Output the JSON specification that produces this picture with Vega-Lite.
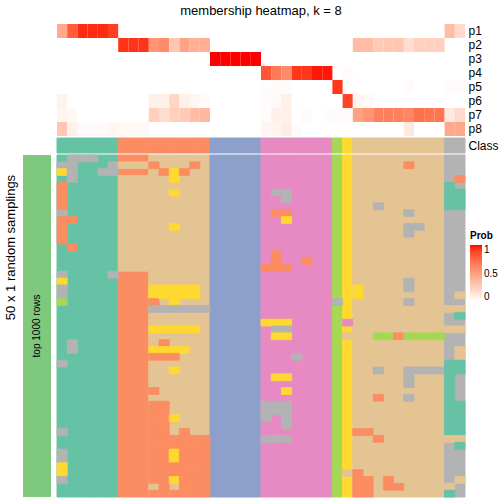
{
"$schema": "https://vega.github.io/schema/vega-lite/v6.json",
"background": "white",
"padding": {"left": 3, "top": 5, "right": 0, "bottom": 0},
"config": {"font": "Liberation Sans", "view": {"stroke": null}},
"datasets": {
"anno": [{"g": "top 1000 rows"}],
"samples": [
{"c":1,"cls":1,"dom":1},{"c":2,"cls":1,"dom":1},{"c":3,"cls":1,"dom":1},{"c":4,"cls":1,"dom":1},{"c":5,"cls":1,"dom":1},{"c":6,"cls":1,"dom":1},
{"c":7,"cls":2,"dom":2},{"c":8,"cls":2,"dom":2},{"c":9,"cls":2,"dom":2},
{"c":10,"cls":2,"dom":7},{"c":11,"cls":2,"dom":7},{"c":12,"cls":2,"dom":7},{"c":13,"cls":2,"dom":7},{"c":14,"cls":2,"dom":7},{"c":15,"cls":2,"dom":7},
{"c":16,"cls":3,"dom":3},{"c":17,"cls":3,"dom":3},{"c":18,"cls":3,"dom":3},{"c":19,"cls":3,"dom":3},{"c":20,"cls":3,"dom":3},
{"c":21,"cls":4,"dom":4},{"c":22,"cls":4,"dom":4},{"c":23,"cls":4,"dom":4},{"c":24,"cls":4,"dom":4},{"c":25,"cls":4,"dom":4},{"c":26,"cls":4,"dom":4},{"c":27,"cls":4,"dom":4},
{"c":28,"cls":5,"dom":5},{"c":29,"cls":6,"dom":6},
{"c":30,"cls":7,"dom":7},{"c":31,"cls":7,"dom":7},{"c":32,"cls":7,"dom":7},{"c":33,"cls":7,"dom":7},{"c":34,"cls":7,"dom":7},{"c":35,"cls":7,"dom":7},{"c":36,"cls":7,"dom":7},{"c":37,"cls":7,"dom":7},{"c":38,"cls":7,"dom":7},
{"c":39,"cls":8,"dom":8},{"c":40,"cls":8,"dom":8}
],
"prob": [
{"c":1,"p":"p1","v":0.45},{"c":1,"p":"p6","v":0.07},{"c":1,"p":"p7","v":0.06},{"c":1,"p":"p8","v":0.3},
{"c":2,"p":"p1","v":0.8},{"c":2,"p":"p7","v":0.04},{"c":2,"p":"p8","v":0.08},
{"c":3,"p":"p1","v":0.95},{"c":3,"p":"p8","v":0.02},
{"c":4,"p":"p1","v":0.95},{"c":4,"p":"p8","v":0.02},
{"c":5,"p":"p1","v":0.95},{"c":5,"p":"p8","v":0.02},
{"c":6,"p":"p1","v":0.9},{"c":6,"p":"p8","v":0.05},
{"c":7,"p":"p2","v":0.93},{"c":7,"p":"p8","v":0.04},
{"c":8,"p":"p2","v":0.93},{"c":8,"p":"p8","v":0.04},
{"c":9,"p":"p2","v":0.93},{"c":9,"p":"p8","v":0.04},
{"c":10,"p":"p2","v":0.55},{"c":10,"p":"p6","v":0.08},{"c":10,"p":"p7","v":0.25},
{"c":11,"p":"p2","v":0.6},{"c":11,"p":"p6","v":0.08},{"c":11,"p":"p7","v":0.18},
{"c":12,"p":"p2","v":0.3},{"c":12,"p":"p6","v":0.22},{"c":12,"p":"p7","v":0.25},
{"c":13,"p":"p2","v":0.48},{"c":13,"p":"p6","v":0.08},{"c":13,"p":"p7","v":0.28},
{"c":14,"p":"p2","v":0.42},{"c":14,"p":"p6","v":0.05},{"c":14,"p":"p7","v":0.35},
{"c":15,"p":"p2","v":0.42},{"c":15,"p":"p6","v":0.02},{"c":15,"p":"p7","v":0.38},
{"c":16,"p":"p3","v":1},{"c":17,"p":"p3","v":1},{"c":18,"p":"p3","v":1},{"c":19,"p":"p3","v":1},{"c":20,"p":"p3","v":1},
{"c":21,"p":"p4","v":0.82},{"c":21,"p":"p5","v":0.01},{"c":21,"p":"p6","v":0.02},{"c":21,"p":"p7","v":0.02},{"c":21,"p":"p8","v":0.05},
{"c":22,"p":"p4","v":0.68},{"c":22,"p":"p5","v":0.02},{"c":22,"p":"p6","v":0.03},{"c":22,"p":"p7","v":0.08},{"c":22,"p":"p8","v":0.06},
{"c":23,"p":"p4","v":0.6},{"c":23,"p":"p5","v":0.02},{"c":23,"p":"p6","v":0.08},{"c":23,"p":"p7","v":0.08},{"c":23,"p":"p8","v":0.1},
{"c":24,"p":"p4","v":0.92},{"c":24,"p":"p8","v":0.02},
{"c":25,"p":"p4","v":0.92},{"c":25,"p":"p7","v":0.02},
{"c":26,"p":"p4","v":0.98},
{"c":27,"p":"p4","v":0.98},{"c":27,"p":"p7","v":0.01},
{"c":28,"p":"p5","v":0.92},{"c":28,"p":"p7","v":0.02},
{"c":29,"p":"p6","v":0.88},{"c":29,"p":"p4","v":0.02},{"c":29,"p":"p7","v":0.02},
{"c":30,"p":"p2","v":0.35},{"c":30,"p":"p6","v":0.05},{"c":30,"p":"p7","v":0.48},
{"c":31,"p":"p2","v":0.35},{"c":31,"p":"p6","v":0.03},{"c":31,"p":"p7","v":0.55},
{"c":32,"p":"p2","v":0.28},{"c":32,"p":"p7","v":0.65},
{"c":33,"p":"p2","v":0.3},{"c":33,"p":"p7","v":0.65},
{"c":34,"p":"p2","v":0.3},{"c":34,"p":"p7","v":0.65},
{"c":35,"p":"p2","v":0.18},{"c":35,"p":"p5","v":0.02},{"c":35,"p":"p7","v":0.62},{"c":35,"p":"p8","v":0.12},
{"c":36,"p":"p2","v":0.25},{"c":36,"p":"p7","v":0.72},
{"c":37,"p":"p2","v":0.25},{"c":37,"p":"p7","v":0.7},
{"c":38,"p":"p2","v":0.25},{"c":38,"p":"p7","v":0.7},
{"c":39,"p":"p1","v":0.35},{"c":39,"p":"p5","v":0.02},{"c":39,"p":"p7","v":0.12},{"c":39,"p":"p8","v":0.45},
{"c":40,"p":"p1","v":0.2},{"c":40,"p":"p5","v":0.02},{"c":40,"p":"p7","v":0.2},{"c":40,"p":"p8","v":0.45}
],
"cells": [
{"c":1,"r":2,"k":8},{"c":1,"r":3,"k":6},{"c":1,"r":5,"k":2},{"c":1,"r":6,"k":2},{"c":1,"r":7,"k":2},{"c":1,"r":8,"k":2},{"c":1,"r":9,"k":8},{"c":1,"r":10,"k":2},{"c":1,"r":11,"k":2},{"c":1,"r":12,"k":2},{"c":1,"r":13,"k":2},{"c":1,"r":18,"k":8},{"c":1,"r":19,"k":6},{"c":1,"r":20,"k":8},{"c":1,"r":21,"k":8},{"c":1,"r":22,"k":5},{"c":1,"r":31,"k":8},{"c":1,"r":41,"k":8},{"c":1,"r":44,"k":8},{"c":1,"r":45,"k":8},{"c":1,"r":46,"k":6},{"c":1,"r":47,"k":6},{"c":1,"r":48,"k":8},
{"c":2,"r":1,"k":8},{"c":2,"r":2,"k":8},{"c":2,"r":3,"k":8},{"c":2,"r":4,"k":8},{"c":2,"r":10,"k":2},{"c":2,"r":14,"k":2},{"c":2,"r":28,"k":8},{"c":2,"r":29,"k":8},
{"c":3,"r":1,"k":8},{"c":4,"r":1,"k":8},{"c":5,"r":3,"k":8},{"c":6,"r":2,"k":8},{"c":6,"r":3,"k":8},{"c":6,"r":18,"k":8},
{"c":7,"r":2,"k":7},{"c":7,"r":4,"k":7},{"c":7,"r":5,"k":7},{"c":7,"r":6,"k":7},{"c":7,"r":7,"k":7},{"c":7,"r":8,"k":7},{"c":7,"r":9,"k":7},{"c":7,"r":10,"k":7},{"c":7,"r":11,"k":7},{"c":7,"r":12,"k":7},{"c":7,"r":13,"k":7},{"c":7,"r":14,"k":7},{"c":7,"r":15,"k":7},{"c":7,"r":16,"k":7},{"c":7,"r":17,"k":7},
{"c":8,"r":2,"k":7},{"c":8,"r":4,"k":7},{"c":8,"r":5,"k":7},{"c":8,"r":6,"k":7},{"c":8,"r":7,"k":7},{"c":8,"r":8,"k":7},{"c":8,"r":9,"k":7},{"c":8,"r":10,"k":7},{"c":8,"r":11,"k":7},{"c":8,"r":12,"k":7},{"c":8,"r":13,"k":7},{"c":8,"r":14,"k":7},{"c":8,"r":15,"k":7},{"c":8,"r":16,"k":7},{"c":8,"r":17,"k":7},
{"c":9,"r":2,"k":7},{"c":9,"r":4,"k":7},{"c":9,"r":5,"k":7},{"c":9,"r":6,"k":7},{"c":9,"r":7,"k":7},{"c":9,"r":8,"k":7},{"c":9,"r":9,"k":7},{"c":9,"r":10,"k":7},{"c":9,"r":11,"k":7},{"c":9,"r":12,"k":7},{"c":9,"r":13,"k":7},{"c":9,"r":14,"k":7},{"c":9,"r":15,"k":7},{"c":9,"r":16,"k":7},{"c":9,"r":17,"k":7},
{"c":10,"r":2,"k":2},{"c":10,"r":20,"k":6},{"c":10,"r":21,"k":6},{"c":10,"r":22,"k":2},{"c":10,"r":23,"k":8},{"c":10,"r":26,"k":6},{"c":10,"r":29,"k":6},{"c":10,"r":30,"k":2},{"c":10,"r":35,"k":2},{"c":10,"r":37,"k":2},{"c":10,"r":38,"k":2},{"c":10,"r":39,"k":2},{"c":10,"r":40,"k":2},{"c":10,"r":41,"k":2},{"c":10,"r":42,"k":2},{"c":10,"r":43,"k":2},{"c":10,"r":44,"k":2},{"c":10,"r":45,"k":2},{"c":10,"r":46,"k":2},{"c":10,"r":47,"k":2},{"c":10,"r":48,"k":2},{"c":10,"r":50,"k":2},
{"c":11,"r":3,"k":2},{"c":11,"r":20,"k":6},{"c":11,"r":21,"k":6},{"c":11,"r":23,"k":8},{"c":11,"r":26,"k":6},{"c":11,"r":28,"k":2},{"c":11,"r":29,"k":6},{"c":11,"r":30,"k":2},{"c":11,"r":37,"k":2},{"c":11,"r":38,"k":2},{"c":11,"r":39,"k":2},{"c":11,"r":40,"k":2},{"c":11,"r":41,"k":2},{"c":11,"r":42,"k":2},{"c":11,"r":43,"k":2},{"c":11,"r":44,"k":2},{"c":11,"r":45,"k":2},{"c":11,"r":46,"k":2},{"c":11,"r":47,"k":2},{"c":11,"r":48,"k":2},{"c":11,"r":49,"k":2},{"c":11,"r":50,"k":2},
{"c":12,"r":3,"k":6},{"c":12,"r":4,"k":6},{"c":12,"r":6,"k":6},{"c":12,"r":11,"k":6},{"c":12,"r":20,"k":6},{"c":12,"r":21,"k":6},{"c":12,"r":22,"k":6},{"c":12,"r":23,"k":8},{"c":12,"r":26,"k":6},{"c":12,"r":29,"k":6},{"c":12,"r":30,"k":2},{"c":12,"r":32,"k":6},{"c":12,"r":39,"k":6},{"c":12,"r":42,"k":2},{"c":12,"r":43,"k":2},{"c":12,"r":44,"k":6},{"c":12,"r":45,"k":6},{"c":12,"r":46,"k":2},{"c":12,"r":47,"k":2},{"c":12,"r":48,"k":6},{"c":12,"r":50,"k":2},
{"c":13,"r":3,"k":2},{"c":13,"r":20,"k":6},{"c":13,"r":21,"k":6},{"c":13,"r":23,"k":8},{"c":13,"r":26,"k":6},{"c":13,"r":29,"k":6},{"c":13,"r":41,"k":2},{"c":13,"r":42,"k":2},{"c":13,"r":43,"k":2},{"c":13,"r":44,"k":2},{"c":13,"r":45,"k":2},{"c":13,"r":46,"k":2},{"c":13,"r":47,"k":2},{"c":13,"r":48,"k":2},{"c":13,"r":49,"k":2},{"c":13,"r":50,"k":2},
{"c":14,"r":2,"k":2},{"c":14,"r":20,"k":6},{"c":14,"r":21,"k":6},{"c":14,"r":23,"k":8},{"c":14,"r":26,"k":6},{"c":14,"r":42,"k":2},{"c":14,"r":43,"k":2},{"c":14,"r":44,"k":2},{"c":14,"r":45,"k":2},{"c":14,"r":46,"k":2},{"c":14,"r":47,"k":2},{"c":14,"r":48,"k":2},{"c":14,"r":49,"k":2},{"c":14,"r":50,"k":2},
{"c":15,"r":23,"k":8},{"c":15,"r":42,"k":2},{"c":15,"r":43,"k":2},{"c":15,"r":44,"k":2},{"c":15,"r":45,"k":2},{"c":15,"r":46,"k":2},{"c":15,"r":47,"k":2},{"c":15,"r":48,"k":2},{"c":15,"r":49,"k":2},{"c":15,"r":50,"k":2},
{"c":21,"r":17,"k":2},{"c":21,"r":25,"k":6},{"c":21,"r":37,"k":8},{"c":21,"r":38,"k":8},{"c":21,"r":39,"k":8},{"c":21,"r":42,"k":8},
{"c":22,"r":6,"k":8},{"c":22,"r":9,"k":2},{"c":22,"r":15,"k":2},{"c":22,"r":16,"k":2},{"c":22,"r":17,"k":2},{"c":22,"r":25,"k":6},{"c":22,"r":26,"k":8},{"c":22,"r":27,"k":6},{"c":22,"r":33,"k":6},{"c":22,"r":37,"k":8},{"c":22,"r":38,"k":8},{"c":22,"r":42,"k":8},
{"c":23,"r":6,"k":8},{"c":23,"r":7,"k":8},{"c":23,"r":9,"k":2},{"c":23,"r":10,"k":6},{"c":23,"r":17,"k":2},{"c":23,"r":25,"k":6},{"c":23,"r":26,"k":8},{"c":23,"r":27,"k":6},{"c":23,"r":33,"k":6},{"c":23,"r":35,"k":6},{"c":23,"r":37,"k":8},{"c":23,"r":38,"k":8},{"c":23,"r":39,"k":8},{"c":23,"r":40,"k":8},{"c":23,"r":42,"k":8},
{"c":24,"r":30,"k":8},{"c":25,"r":16,"k":2},{"c":28,"r":22,"k":8},
{"c":29,"r":25,"k":4},{"c":29,"r":27,"k":7},{"c":29,"r":47,"k":7},
{"c":30,"r":20,"k":6},{"c":30,"r":21,"k":6},{"c":30,"r":41,"k":2},{"c":30,"r":47,"k":2},{"c":30,"r":48,"k":2},{"c":30,"r":49,"k":2},{"c":30,"r":50,"k":2},
{"c":31,"r":41,"k":2},{"c":31,"r":48,"k":2},{"c":31,"r":49,"k":2},{"c":31,"r":50,"k":2},
{"c":32,"r":8,"k":8},{"c":32,"r":27,"k":5},{"c":32,"r":32,"k":8},{"c":32,"r":36,"k":2},{"c":32,"r":42,"k":2},
{"c":33,"r":27,"k":5},{"c":33,"r":48,"k":2},{"c":33,"r":49,"k":2},
{"c":34,"r":27,"k":2},{"c":34,"r":49,"k":2},
{"c":35,"r":2,"k":2},{"c":35,"r":9,"k":8},{"c":35,"r":11,"k":8},{"c":35,"r":12,"k":8},{"c":35,"r":19,"k":8},{"c":35,"r":20,"k":8},{"c":35,"r":22,"k":8},{"c":35,"r":27,"k":5},{"c":35,"r":32,"k":8},{"c":35,"r":33,"k":8},{"c":35,"r":34,"k":8},{"c":35,"r":36,"k":8},
{"c":36,"r":11,"k":8},{"c":36,"r":27,"k":5},{"c":36,"r":32,"k":8},
{"c":37,"r":27,"k":5},{"c":37,"r":32,"k":8},
{"c":38,"r":27,"k":5},{"c":38,"r":32,"k":8},
{"c":39,"r":5,"k":1},{"c":39,"r":6,"k":1},{"c":39,"r":7,"k":1},{"c":39,"r":8,"k":1},{"c":39,"r":23,"k":7},{"c":39,"r":26,"k":7},{"c":39,"r":31,"k":1},{"c":39,"r":32,"k":1},{"c":39,"r":33,"k":1},{"c":39,"r":34,"k":1},{"c":39,"r":35,"k":1},{"c":39,"r":36,"k":1},{"c":39,"r":37,"k":1},{"c":39,"r":38,"k":1},{"c":39,"r":39,"k":1},{"c":39,"r":40,"k":1},{"c":39,"r":41,"k":1},{"c":39,"r":42,"k":7},{"c":39,"r":49,"k":7},{"c":39,"r":50,"k":1},
{"c":40,"r":4,"k":2},{"c":40,"r":6,"k":1},{"c":40,"r":7,"k":1},{"c":40,"r":8,"k":1},{"c":40,"r":21,"k":7},{"c":40,"r":23,"k":7},{"c":40,"r":24,"k":1},{"c":40,"r":26,"k":7},{"c":40,"r":29,"k":7},{"c":40,"r":30,"k":7},{"c":40,"r":31,"k":1},{"c":40,"r":32,"k":1},{"c":40,"r":37,"k":1},{"c":40,"r":38,"k":1},{"c":40,"r":39,"k":1},{"c":40,"r":40,"k":1},{"c":40,"r":41,"k":1},{"c":40,"r":42,"k":7},{"c":40,"r":43,"k":1},{"c":40,"r":48,"k":7}
]
},
"columns": 2,
"align": "each",
"bounds": "flush",
"spacing": {"row": 2, "column": 6},
"resolve": {"scale": {"color": "independent", "stroke": "independent"}, "legend": {"color": "independent", "stroke": "independent"}},
"concat": [
{"width": 1, "height": 1, "data": {"values": []}, "mark": "rect", "encoding": {}},
{
"width": 408, "height": 112,
"title": {"text": "membership heatmap, k = 8", "fontSize": 13, "fontWeight": "normal", "offset": 6},
"data": {"name": "prob"},
"mark": "rect",
"encoding": {
"x": {"field": "c", "type": "ordinal", "axis": null, "scale": {"domain": [1,2,3,4,5,6,7,8,9,10,11,12,13,14,15,16,17,18,19,20,21,22,23,24,25,26,27,28,29,30,31,32,33,34,35,36,37,38,39,40]}},
"y": {"field": "p", "type": "nominal", "scale": {"domain": ["p1","p2","p3","p4","p5","p6","p7","p8"]}, "axis": {"orient": "right", "title": null, "ticks": false, "domain": false, "labelFontSize": 12, "labelPadding": 3, "labelColor": "black"}},
"color": {"field": "v", "type": "quantitative", "scale": {"domain": [0, 1], "range": ["#FFFFFF", "#FF0000"], "interpolate": "lab"},
"legend": {"title": "Prob", "orient": "none", "direction": "vertical", "legendX": 413, "legendY": 207, "gradientLength": 57, "gradientThickness": 12, "values": [0, 0.5, 1], "format": "~g", "titleFontSize": 10, "labelFontSize": 10, "titlePadding": 4, "labelColor": "black", "titleColor": "black"}}
}
},
{"width": 1, "height": 1, "data": {"values": []}, "mark": "rect", "encoding": {}},
{
"width": 408, "height": 15,
"data": {"name": "samples"},
"mark": {"type": "rect", "strokeWidth": 1},
"encoding": {
"x": {"field": "c", "type": "ordinal", "axis": null, "scale": {"domain": [1,2,3,4,5,6,7,8,9,10,11,12,13,14,15,16,17,18,19,20,21,22,23,24,25,26,27,28,29,30,31,32,33,34,35,36,37,38,39,40]}},
"y": {"datum": "Class", "type": "nominal", "axis": {"orient": "right", "title": null, "ticks": false, "domain": false, "labelFontSize": 12, "labelPadding": 3, "labelColor": "black"}},
"color": {"field": "cls", "type": "nominal", "scale": {"domain": [1,2,3,4,5,6,7,8], "range": ["#66C2A5","#FC8D62","#8DA0CB","#E78AC3","#A6D854","#FFD92F","#E5C494","#B3B3B3"]}, "legend": null},
"stroke": {"field": "cls", "type": "nominal", "scale": {"domain": [1,2,3,4,5,6,7,8], "range": ["#66C2A5","#FC8D62","#8DA0CB","#E78AC3","#A6D854","#FFD92F","#E5C494","#B3B3B3"]}, "legend": null}
}
},
{
"width": 28, "height": 342,
"data": {"name": "anno"},
"encoding": {
"x": {"field": "g", "type": "nominal", "axis": null},
"y": {"field": "g", "type": "nominal", "axis": {"title": "50 x 1 random samplings", "labels": false, "ticks": false, "domain": false, "titleFontSize": 13, "titleFontWeight": "normal", "titleColor": "black", "titleX": -13, "titleY": 92, "titleAngle": 270, "titleAlign": "center", "titleBaseline": "middle"}}
},
"layer": [
{"mark": {"type": "rect", "color": "#7FC97F"}},
{"mark": {"type": "text", "angle": 270, "fontSize": 10, "color": "black"}, "encoding": {"text": {"field": "g"}}}
]
},
{
"width": 408, "height": 342,
"layer": [
{
"data": {"name": "samples"},
"mark": {"type": "rect", "strokeWidth": 1},
"encoding": {
"x": {"field": "c", "type": "ordinal", "axis": null, "scale": {"domain": [1,2,3,4,5,6,7,8,9,10,11,12,13,14,15,16,17,18,19,20,21,22,23,24,25,26,27,28,29,30,31,32,33,34,35,36,37,38,39,40]}},
"color": {"field": "dom", "type": "nominal", "title": "Class", "scale": {"domain": [1,2,3,4,5,6,7,8], "range": ["#66C2A5","#FC8D62","#8DA0CB","#E78AC3","#A6D854","#FFD92F","#E5C494","#B3B3B3"]}, "legend": null},
"stroke": {"field": "dom", "type": "nominal", "scale": {"domain": [1,2,3,4,5,6,7,8], "range": ["#66C2A5","#FC8D62","#8DA0CB","#E78AC3","#A6D854","#FFD92F","#E5C494","#B3B3B3"]}, "legend": null}
}
},
{
"data": {"name": "cells"},
"mark": {"type": "rect", "strokeWidth": 0.8},
"encoding": {
"x": {"field": "c", "type": "ordinal", "axis": null},
"y": {"field": "r", "type": "ordinal", "axis": null, "scale": {"domain": [1,2,3,4,5,6,7,8,9,10,11,12,13,14,15,16,17,18,19,20,21,22,23,24,25,26,27,28,29,30,31,32,33,34,35,36,37,38,39,40,41,42,43,44,45,46,47,48,49,50]}},
"stroke": {"field": "k", "type": "nominal", "legend": null},
"color": {"field": "k", "type": "nominal", "title": "Class",
"legend": {"title": "Class", "orient": "none", "direction": "vertical", "legendX": 413, "legendY": 161, "symbolType": "square", "symbolSize": 121, "symbolStrokeWidth": 0, "symbolOpacity": 1, "rowPadding": 0, "labelOffset": 4, "titleFontSize": 10, "labelFontSize": 10, "titlePadding": 5, "labelColor": "black", "titleColor": "black"}}
}
}
]
}
]
}
